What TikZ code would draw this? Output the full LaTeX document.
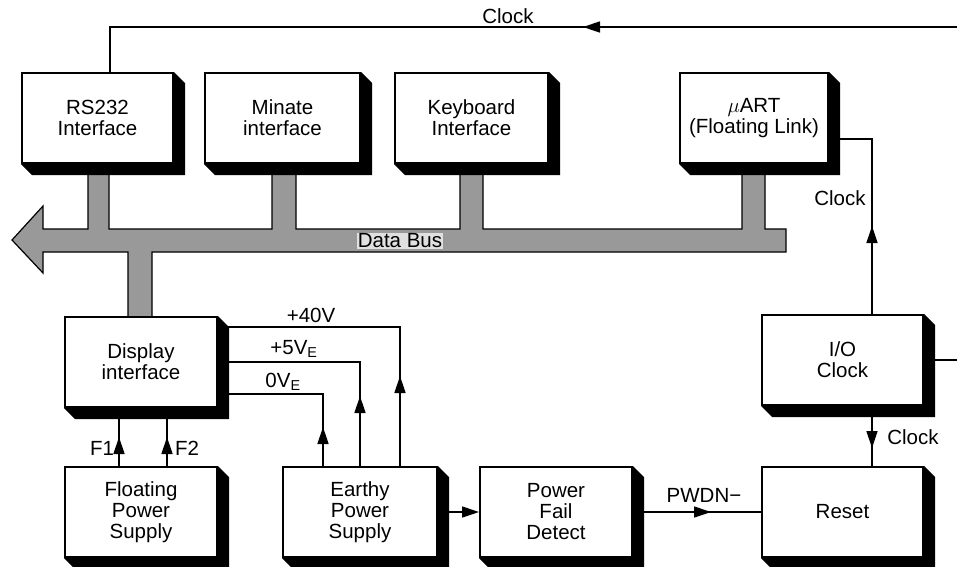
\documentclass[tikz,border=0pt]{standalone}
\usepackage{fontspec}
\setmainfont{Liberation Sans}
\usetikzlibrary{positioning,arrows.meta,calc,backgrounds,decorations.markings}
\usepackage{xcolor}

\tikzset{
  blk/.style={draw, line width=2pt, fill=white, minimum width=152pt,
    minimum height=90pt, align=center, inner sep=2pt},
  sig/.style={line width=1.5pt},
  midarrow/.style={postaction={decorate}, decoration={markings,
    mark=at position #1 with {\arrow{Triangle[length=17pt,width=11pt]}}}},
  lbl/.style={inner sep=1pt},
}

\begin{document}
\begin{tikzpicture}[x=1pt, y=-1pt, font=\fontsize{20.5}{21}\selectfont]
\useasboundingbox (0,0) rectangle (957,566);
% top row of interface blocks
\node[blk, minimum width=151pt] (rs)     at (97.5,118)  {RS232\\Interface};
\node[blk, minimum width=155pt] (minate) at (282.5,118) {Minate\\interface};
\node[blk, minimum width=153pt] (kbd)    at (471.5,118) {Keyboard\\Interface};
\node[blk, minimum width=148pt] (uart)   at (754,118)   {$\mu$ART\\(Floating Link)};
% lower blocks
\node[blk] (disp)  at (141,362)   {Display\\interface};
\node[blk] (fps)   at (141,512)   {Floating\\Power\\Supply};
\node[blk, minimum width=154pt] (eps) at (360,512) {Earthy\\Power\\Supply};
\node[blk] (pfd)   at (556,512)   {Power\\Fail\\Detect};
\node[blk, minimum width=161pt] (reset) at (842.5,512) {Reset};
\node[blk, minimum width=161pt] (ioclk) at (842.5,360) {I/O\\Clock};

\begin{scope}[on background layer]
  % data bus with its stubs; the blocks cover the stub ends
  \filldraw[fill=black!40, draw=black, line width=1.2pt]
    (12,240) -- (43,206) -- (43,229) -- (88,229) -- (88,150) -- (109,150)
    -- (109,229) -- (272,229) -- (272,150) -- (296,150) -- (296,229)
    -- (460,229) -- (460,150) -- (483,150) -- (483,229) -- (742,229)
    -- (742,150) -- (765,150) -- (765,229) -- (786,229) -- (786,252)
    -- (152,252) -- (152,330) -- (128,330) -- (128,252) -- (43,252)
    -- (43,273) -- cycle;
  % extruded shadow on every block
  \foreach \n in {rs,minate,kbd,uart,disp,fps,eps,pfd,reset,ioclk}
    \fill (\n.north east) -- ++(11,11) -- ($(\n.south east)+(11,11)$)
      -- ($(\n.south west)+(11,11)$) -- (\n.south west) -- cycle;
\end{scope}
\node[lbl, fill=black!12] (bus) at (400,241) {Data Bus};

% clock lines
\coordinate (clkin) at (957,27);
\draw[sig, midarrow=374pt] (clkin) -| ([xshift=12.5pt]rs.north);
\node[lbl] (clktop) at (508,16) {Clock};
\draw[sig, midarrow=88pt] ([xshift=29.5pt]ioclk.north) |- ([yshift=-21pt]uart.east);
\node[lbl] (clkuart) at (840,198) {Clock};
\draw[sig, midarrow=42pt] ([xshift=29.5pt]ioclk.south) -- ([xshift=29.5pt]reset.north);
\node[lbl] (clkrst) at (913,437) {Clock};
\draw[sig] (ioclk.east) -- (ioclk.east -| clkin);

% power fail and supplies
\draw[sig, midarrow=78pt] (pfd.east) -- (reset.west);
\node[lbl] (pwdn) at (704,495) {PWDN−};
\draw[sig, -{Triangle[length=17pt,width=11pt]}] (eps.east) -- (pfd.west);
\draw[sig, midarrow=29pt] ([xshift=-22pt]fps.north) -- ([xshift=-22pt]disp.south);
\draw[sig, midarrow=29pt] ([xshift=26pt]fps.north) -- ([xshift=26pt]disp.south);
\node[lbl] (f1) at (102,448) {F1};
\node[lbl] (f2) at (187,448) {F2};
\draw[sig, midarrow=90pt] ([xshift=40pt]eps.north) |- ([yshift=35pt]disp.east);
\draw[sig, midarrow=70pt] (eps.north) |- (disp.east);
\draw[sig, midarrow=39pt] ([xshift=-37pt]eps.north) |- ([yshift=-32pt]disp.east);
\node[lbl] (v40) at (311,315) {+40V};
\node[lbl] (v5)  at (294,349) {+5V\textsubscript{E}};
\node[lbl] (v0)  at (283,382) {0V\textsubscript{E}};
\end{tikzpicture}
\end{document}
